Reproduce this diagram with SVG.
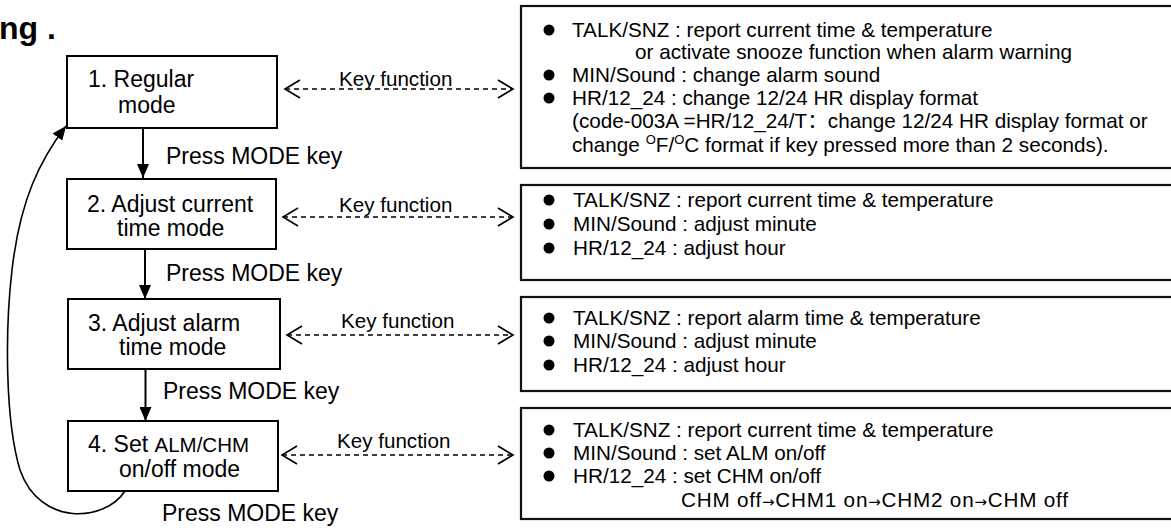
<svg xmlns="http://www.w3.org/2000/svg" width="1171" height="528" viewBox="0 0 1171 528">
<defs>
<style>
text{font-family:"Liberation Sans","Noto Sans CJK SC",Arial,sans-serif;fill:#000}
.mode{font-size:23px}
.small{font-size:20.5px}
.key{font-size:20.6px}
.info{font-size:20.7px}
.ar{font-family:"DejaVu Sans",sans-serif;font-size:15px}
.box{fill:#fff;stroke:#000;stroke-width:2}
.ibox{fill:#fff;stroke:#111;stroke-width:2.2}
.flow{fill:none;stroke:#000;stroke-width:2}
.dash{fill:none;stroke:#000;stroke-width:1.6;stroke-dasharray:5 4}
.loop{fill:none;stroke:#000;stroke-width:1.6}
.bul{fill:#000}
</style>
<marker id="arr" viewBox="0 0 14 12" markerUnits="userSpaceOnUse" markerWidth="14" markerHeight="12" refX="14" refY="6" orient="auto">
<path d="M0,0 L14,6 L0,12 z" fill="#000"/>
</marker>
<marker id="chev" viewBox="0 0 18 20" markerUnits="userSpaceOnUse" markerWidth="18" markerHeight="20" refX="16" refY="10" orient="auto-start-reverse">
<path d="M1,1 L16,10 L1,19" fill="none" stroke="#000" stroke-width="1.6" stroke-dasharray="none"/>
</marker>
</defs>
<rect width="1171" height="528" fill="#fff"/>

<text x="-1" y="39" style="font-size:32px;font-weight:bold">ng .</text>

<g id="connectors">
<line class="flow" x1="143" y1="128" x2="143" y2="178" marker-end="url(#arr)"/>
<line class="flow" x1="145" y1="249" x2="145" y2="299" marker-end="url(#arr)"/>
<line class="flow" x1="145.5" y1="369" x2="145.5" y2="421" marker-end="url(#arr)"/>
<path class="loop" d="M125,491 C105,522 40,527 20,470 C5,420 5,330 12,270 C20,200 40,160 66,126" marker-end="url(#arr)"/>
<line class="dash" x1="285" y1="89" x2="513" y2="89" marker-start="url(#chev)" marker-end="url(#chev)"/>
<line class="dash" x1="283" y1="217" x2="513" y2="217" marker-start="url(#chev)" marker-end="url(#chev)"/>
<line class="dash" x1="287" y1="335" x2="513" y2="335" marker-start="url(#chev)" marker-end="url(#chev)"/>
<line class="dash" x1="282" y1="455" x2="513" y2="455" marker-start="url(#chev)" marker-end="url(#chev)"/>
<text class="mode" x="166" y="164">Press MODE key</text>
<text class="mode" x="166" y="281">Press MODE key</text>
<text class="mode" x="163" y="399">Press MODE key</text>
<text class="mode" x="162" y="521">Press MODE key</text>
<text class="key" x="339" y="86">Key function</text>
<text class="key" x="339" y="212">Key function</text>
<text class="key" x="341" y="328">Key function</text>
<text class="key" x="337" y="448">Key function</text>
</g>

<g id="mode1">
<rect class="box" x="67" y="56" width="210" height="72"/>
<text class="mode" x="88" y="87">1. Regular</text>
<text class="mode" x="118" y="113">mode</text>
</g>
<g id="mode2">
<rect class="box" x="67" y="179" width="209" height="70"/>
<text class="mode" x="87" y="212">2. Adjust current</text>
<text class="mode" x="117" y="236">time mode</text>
</g>
<g id="mode3">
<rect class="box" x="68" y="299" width="212" height="70"/>
<text class="mode" x="88" y="331">3. Adjust alarm</text>
<text class="mode" x="119" y="355">time mode</text>
</g>
<g id="mode4">
<rect class="box" x="68" y="421" width="210" height="70"/>
<text class="mode" x="88" y="452">4. Set <tspan class="small">ALM/CHM</tspan></text>
<text class="mode" x="119" y="477">on/off mode</text>
</g>

<g id="info1">
<rect class="ibox" x="521" y="6" width="800" height="162"/>
<circle class="bul" cx="549" cy="30" r="5.5"/>
<circle class="bul" cx="549" cy="75" r="5.5"/>
<circle class="bul" cx="549" cy="98" r="5.5"/>
<text class="info" x="572" y="37">TALK/SNZ : report current time &amp; temperature</text>
<text class="info" x="635" y="59">or activate snooze function when alarm warning</text>
<text class="info" x="572" y="82">MIN/Sound : change alarm sound</text>
<text class="info" x="572" y="105">HR/12_24 : change 12/24 HR display format</text>
<text class="info" x="572" y="128">(code-003A =HR/12_24/T：change 12/24 HR display format or</text>
<text class="info" x="572" y="152">change <tspan font-size="13" dy="-8">O</tspan><tspan dy="8">F/</tspan><tspan font-size="13" dy="-8">O</tspan><tspan dy="8">C format if key pressed more than 2 seconds).</tspan></text>
</g>
<g id="info2">
<rect class="ibox" x="521" y="185" width="800" height="95"/>
<circle class="bul" cx="549" cy="200" r="5.5"/>
<circle class="bul" cx="549" cy="224" r="5.5"/>
<circle class="bul" cx="549" cy="248" r="5.5"/>
<text class="info" x="573" y="207">TALK/SNZ : report current time &amp; temperature</text>
<text class="info" x="573" y="231">MIN/Sound : adjust minute</text>
<text class="info" x="573" y="255">HR/12_24 : adjust hour</text>
</g>
<g id="info3">
<rect class="ibox" x="521" y="297" width="800" height="94"/>
<circle class="bul" cx="549" cy="318" r="5.5"/>
<circle class="bul" cx="549" cy="341" r="5.5"/>
<circle class="bul" cx="549" cy="365" r="5.5"/>
<text class="info" x="573" y="325">TALK/SNZ : report alarm time &amp; temperature</text>
<text class="info" x="573" y="348">MIN/Sound : adjust minute</text>
<text class="info" x="573" y="372">HR/12_24 : adjust hour</text>
</g>
<g id="info4">
<rect class="ibox" x="521" y="408" width="800" height="111"/>
<circle class="bul" cx="549" cy="430" r="5.5"/>
<circle class="bul" cx="549" cy="453" r="5.5"/>
<circle class="bul" cx="549" cy="476" r="5.5"/>
<text class="info" x="573" y="437">TALK/SNZ : report current time &amp; temperature</text>
<text class="info" x="573" y="460">MIN/Sound : set ALM on/off</text>
<text class="info" x="573" y="483">HR/12_24 : set CHM on/off</text>
<text class="info" x="681" y="507" textLength="387" lengthAdjust="spacing">CHM off<tspan class="ar">→</tspan>CHM1 on<tspan class="ar">→</tspan>CHM2 on<tspan class="ar">→</tspan>CHM off</text>
</g>
</svg>
